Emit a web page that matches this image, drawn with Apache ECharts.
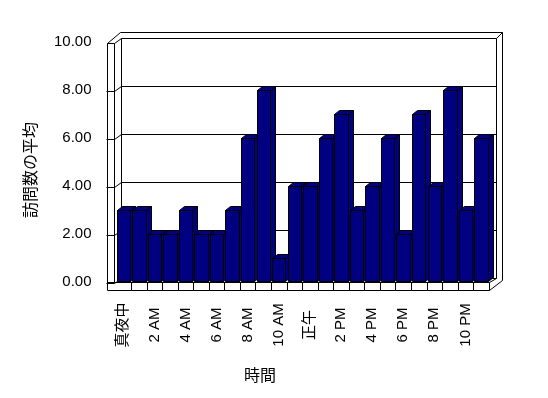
<!DOCTYPE html>
<html>
<head>
<meta charset="utf-8">
<script src="https://cdn.jsdelivr.net/npm/echarts@6/dist/echarts.min.js"></script>
<style>html,body{margin:0;padding:0;background:#fff;}#c{width:548px;height:398px;}</style>
</head>
<body>
<div id="c"></div>
<script>
const hours = ['真夜中','1 AM','2 AM','3 AM','4 AM','5 AM','6 AM','7 AM','8 AM','9 AM','10 AM','11 AM',
               '正午','1 PM','2 PM','3 PM','4 PM','5 PM','6 PM','7 PM','8 PM','9 PM','10 PM','11 PM'];
const visits = [3,3,2,2,3,2,2,3,6,8,1,4,4,6,7,3,4,6,2,7,4,8,3,6];
const yTicks = [0,2,4,6,8,10];
const yName = '訪問数の平均';
const xName = '時間';

const GL = 115.5, GR = 59.3, GT = 42, GB = 116;
const FONT = 'Liberation Sans, Arial, Noto Sans CJK JP, sans-serif';
const BAR = '#000080';
const DX = 5, DY = -4;

const chart = echarts.init(document.getElementById('c'), null, {renderer: 'canvas'});

function renderBar(params, api) {
  const i = api.value(0), v = api.value(1);
  const base = api.coord([i, 0]);
  const top = api.coord([i, v]);
  const band = api.size([1, 0])[0];
  const w = band * 0.86;
  const xl = Math.round(base[0] - w / 2) + 0.5;
  const xr = Math.round(base[0] + w / 2) + 0.5;
  const yb = Math.round(base[1]) - 0.5;
  const yt = Math.round(top[1]) + 0.5;
  const st = {fill: BAR, stroke: '#000', lineWidth: 1};
  return {
    type: 'group',
    children: [
      {type: 'polygon', shape: {points: [[xr, yt], [xr + DX, yt + DY], [xr + DX, yb + DY], [xr, yb]]}, style: st},
      {type: 'polygon', shape: {points: [[xl, yt], [xl + DX, yt + DY], [xr + DX, yt + DY], [xr, yt]]}, style: st},
      {type: 'rect', shape: {x: xl, y: yt, width: xr - xl, height: yb - yt}, style: st}
    ]
  };
}

chart.setOption({
  animation: false,
  backgroundColor: '#fff',
  grid: {left: GL, right: GR, top: GT, bottom: GB},
  xAxis: {
    type: 'category',
    data: hours,
    axisLine: {show: false},
    axisTick: {show: false},
    axisLabel: {
      interval: 1, rotate: 90, align: 'center', verticalAlign: 'middle', margin: 43,
      color: '#000', fontSize: 15, fontFamily: FONT
    }
  },
  yAxis: {
    type: 'value', min: 0, max: 10, interval: 2,
    axisLine: {show: false},
    axisTick: {show: false},
    splitLine: {show: false},
    axisLabel: {
      margin: 24, color: '#000', fontSize: 15, fontFamily: FONT,
      formatter: v => v.toFixed(2)
    }
  },
  series: [{
    type: 'custom',
    renderItem: renderBar,
    encode: {x: 0, y: 1},
    data: visits.map((v, i) => [i, v]),
    z: 3
  }]
});

// 3D frame (walls and floor)
(function () {
  const yv = v => chart.convertToPixel({yAxisIndex: 0}, v);
  const X0 = GL, X1 = 548 - GR;
  const band = (X1 - X0) / hours.length;
  const B = yv(0), T = yv(10);
  const P = x => Math.round(x) + 0.5;
  const a = X0 - 9, b = X0 - 1.5, c = X0 + 5.5;
  const Ri = X1 + 7, Ro = X1 + 13;
  const segs = [];
  const L = (x1, y1, x2, y2) => segs.push([P(x1), P(y1), P(x2), P(y2)]);
  // left wall
  L(a, T + 1, a, B + 8);
  L(b, T + 1, b, B);
  L(a, T + 1, b, T + 1);
  L(a, T + 1, c - 1, T - 10);
  L(b, T + 1, c, T - 4);
  // back wall
  L(c - 1, T - 10, Ro, T - 10);
  L(c, T - 4, Ri, T - 4);
  L(c, T - 4, c, B - 4);
  L(Ri, T - 4, Ri, B - 4);
  L(Ro, T - 10, Ro, B - 2);
  L(Ri, T - 4, Ro, T - 10);
  L(c, B - 4, Ri, B - 4);
  // gridlines and ticks
  yTicks.forEach(v => {
    const y = yv(v);
    if (v > 0 && v < 10) L(c, y - 4, Ri, y - 4);
    if (v < 10) {
      L(a - 1, y + 1, b, y + 1);
      L(b, y + 1, c, y - 4);
    }
  });
  // floor
  L(a, B, X1, B);
  L(a, B + 8, X1, B + 8);
  L(X1, B, X1, B + 8);
  for (let i = 1; i < hours.length; i++) {
    const x = X0 + i * band;
    L(x, B, x, B + 8);
  }
  L(X1, B + 8, Ro, B - 2);
  L(X1, B, Ri, B - 4);

  const els = segs.map(s => ({
    type: 'line', z: 0, silent: true,
    shape: {x1: s[0], y1: s[1], x2: s[2], y2: s[3]},
    style: {stroke: '#000', lineWidth: 1}
  }));
  els.push({
    type: 'text', z: 5, x: 30, y: 170, rotation: Math.PI / 2,
    style: {text: yName, fill: '#000', font: '16px "Noto Sans CJK JP", sans-serif', align: 'center', verticalAlign: 'middle'}
  });
  els.push({
    type: 'text', z: 5, x: 260, y: 375,
    style: {text: xName, fill: '#000', font: '16px "Noto Sans CJK JP", sans-serif', align: 'center', verticalAlign: 'middle'}
  });
  chart.setOption({graphic: els});
})();
</script>
</body>
</html>
